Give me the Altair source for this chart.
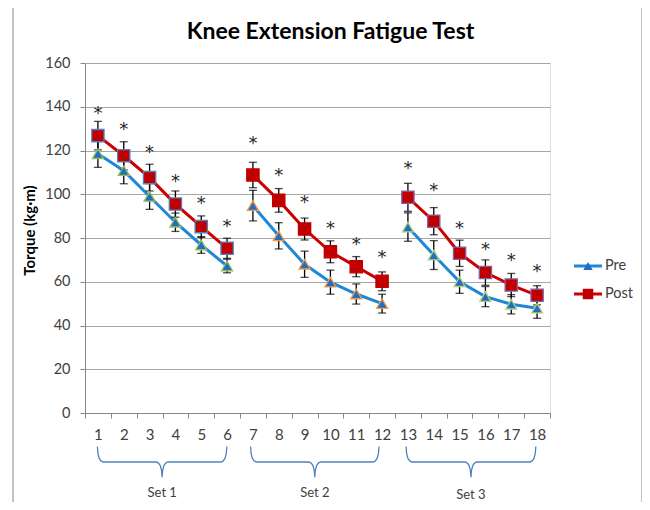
import altair as alt
import pandas as pd

# ---------------- data ----------------
trials = list(range(1, 19))
set_names = ["Set 1"] * 6 + ["Set 2"] * 6 + ["Set 3"] * 6
pre = [118.5, 110.8, 99.0, 87.2, 76.8, 67.2,
       94.8, 81.0, 68.0, 59.8, 54.4, 50.0,
       85.0, 72.2, 60.0, 53.2, 49.7, 47.9]
pre_err = [6.2, 6.0, 5.9, 4.2, 3.8, 3.1,
           7.0, 6.0, 6.0, 5.5, 4.6, 4.3,
           6.5, 6.6, 5.3, 4.6, 4.4, 4.6]
post = [126.8, 117.6, 107.6, 95.5, 85.2, 75.3,
        108.8, 97.2, 84.1, 73.7, 66.9, 60.2,
        98.6, 87.7, 73.0, 64.2, 58.5, 53.8]
post_err = [6.5, 6.4, 6.1, 6.0, 4.9, 4.6,
            5.8, 5.4, 5.0, 5.0, 4.6, 4.3,
            6.4, 6.2, 6.0, 5.8, 5.3, 4.4]
star_pos = [138.2, 130.6, 120.2, 106.8, 97.0, 86.3,
            124.5, 109.6, 97.4, 85.3, 78.0, 72.2,
            112.9, 103.0, 85.5, 76.0, 70.7, 65.7]
series_names = ["Pre", "Post"]
set_labels = ["Set 1", "Set 2", "Set 3"]
set_centers = [3.49, 9.40, 15.44]
set_label_y = [-36.6, -36.4, -37.4]
brace_ends = [(0.98, 5.99), (6.91, 11.88), (12.93, 17.95)]

# ---------------- styling ----------------
FONT = "Lato"
BLUE_LINE = "#1F88D6"
BLUE_FILL = "#1F70C4"
RED_LINE = "#CC0000"
RED_FILL = "#C00000"
GRAY = "#868686"
TXT = "#404040"
W, H = 465, 350

rows = []
for i, t in enumerate(trials):
    rows.append({"trial": t, "set": set_names[i], "series": "Pre", "value": pre[i],
                 "lo": pre[i] - pre_err[i], "hi": pre[i] + pre_err[i]})
    rows.append({"trial": t, "set": set_names[i], "series": "Post", "value": post[i],
                 "lo": post[i] - post_err[i], "hi": post[i] + post_err[i]})
long = pd.DataFrame(rows)
stars = pd.DataFrame({"trial": trials, "star": star_pos, "mark": ["*"] * 18})

yscale = alt.Scale(domain=[0, 160], nice=False)
xscale = alt.Scale(type="band", paddingInner=0, paddingOuter=0)

x_axis = alt.Axis(title=None, labelAngle=0, tickBand="extent", tickSize=5,
                  tickColor=GRAY, domainColor=GRAY, labelFont=FONT,
                  labelFontSize=15, labelColor=TXT, labelPadding=9, grid=False)
y_axis = alt.Axis(title="Torque (kg·m)", values=list(range(0, 161, 20)), tickSize=5,
                  tickColor=GRAY, domainColor=GRAY, grid=True, gridColor="#A6A6A6",
                  labelFont=FONT, labelFontSize=14.5, labelColor=TXT, labelPadding=10,
                  titleFont=FONT, titleFontSize=15, titleFontWeight="bold",
                  titleColor="#000000", titlePadding=7, titleY=167)

X = alt.X("trial:O", scale=xscale, axis=x_axis)
Y = alt.Y("value:Q", scale=yscale, axis=y_axis)
Yn = lambda f: alt.Y(f, scale=yscale, title="Torque (kg·m)")

color = alt.Color("series:N", scale=alt.Scale(domain=series_names, range=[BLUE_LINE, RED_LINE]),
                  legend=None)

lines = alt.Chart(long).mark_line(strokeWidth=3).encode(
    x=X, y=Y, color=color, detail="set:N")

err_rule = alt.Chart(long).mark_rule(color="#000000", strokeWidth=1.3).encode(
    x=X, y=Yn("lo:Q"), y2="hi:Q")
cap_lo = alt.Chart(long).mark_tick(color="#000000", thickness=1.3, size=8).encode(
    x=X, y=Yn("lo:Q"))
cap_hi = alt.Chart(long).mark_tick(color="#000000", thickness=1.3, size=8).encode(
    x=X, y=Yn("hi:Q"))

pre_pts = alt.Chart(long).transform_filter(alt.datum.series == "Pre").mark_point(
    shape="triangle-up", filled=True, fill=BLUE_FILL, size=120, strokeWidth=1.3, opacity=1
).encode(x=X, y=Y, stroke=alt.Stroke("set:N", scale=alt.Scale(
    domain=set_labels, range=["#9BBB59", "#F79646", "#B5CF7A"]), legend=None))

post_pts = alt.Chart(long).transform_filter(alt.datum.series == "Post").mark_point(
    shape="square", filled=True, fill=RED_FILL, size=150, strokeWidth=1.3, opacity=1
).encode(x=X, y=Y, stroke=alt.Stroke("set:N", scale=alt.Scale(
    domain=set_labels, range=["#4F81BD", RED_FILL, "#8064A2"]), legend=None))

star_txt = alt.Chart(stars).mark_text(font="DejaVu Sans", fontSize=18, color="#262626",
                                      baseline="middle", dy=3).encode(
    x=X, y=Yn("star:Q"), text="mark:N")

inner = alt.layer(lines, err_rule, cap_lo, cap_hi, pre_pts, post_pts, star_txt).resolve_scale(
    stroke="independent")

# braces under the x axis (decoration built from the set ranges)
tmpl = [(0.00, -15.3), (0.02, -18.5), (0.07, -20.8), (0.14, -21.9), (0.22, -22.4)]
tip = [(0.22, -22.4), (0.14, -22.9), (0.07, -24.0), (0.02, -26.3), (0.0, -29.3)]
brows = []
for k, (a, b) in enumerate(brace_ends):
    c = (a + b) / 2
    pts = [(a + d, y) for d, y in tmpl] + [(c - d, y) for d, y in tip] + \
          [(c + d, y) for d, y in reversed(tip)] + [(b - d, y) for d, y in reversed(tmpl)]
    for j, (bx, by) in enumerate(pts):
        brows.append({"brace": k, "order": j, "bx": bx, "by": by})
braces_df = pd.DataFrame(brows)
qx = alt.Scale(domain=[0.5, 18.5], nice=False)
braces = alt.Chart(braces_df).mark_line(color="#4F81BD", strokeWidth=1.3).encode(
    x=alt.X("bx:Q", scale=qx, axis=None),
    y=alt.Y("by:Q", scale=yscale, axis=None),
    detail="brace:N", order="order:Q")

set_df = pd.DataFrame({"label": set_labels, "cx": set_centers, "cy": set_label_y})
set_txt = alt.Chart(set_df).mark_text(font=FONT, fontSize=13, color=TXT, baseline="middle").encode(
    x=alt.X("cx:Q", scale=qx, axis=None),
    y=alt.Y("cy:Q", scale=yscale, axis=None), text="label:N")

# manual legend
leg = []
leg_y = [203, 231]
leg_col = [BLUE_LINE, RED_LINE]
leg_fill = [BLUE_FILL, RED_FILL]
leg_shape = ["triangle-up", "square"]
leg_size = [90, 110]
for i, name in enumerate(series_names):
    d = pd.DataFrame({"label": [name]})
    leg.append(alt.Chart(d).mark_rule(color=leg_col[i], strokeWidth=3).encode(
        x=alt.value(489), x2=alt.value(517), y=alt.value(leg_y[i])))
    leg.append(alt.Chart(d).mark_point(shape=leg_shape[i], filled=True, fill=leg_fill[i],
                                       size=leg_size[i], opacity=1).encode(
        x=alt.value(503), y=alt.value(leg_y[i])))
    leg.append(alt.Chart(d).mark_text(font=FONT, fontSize=14.5, color=TXT, align="left",
                                      baseline="middle").encode(
        x=alt.value(520), y=alt.value(leg_y[i]), text="label:N"))

frame_df = pd.DataFrame({"label": ["frame"]})
frame = [
    alt.Chart(frame_df).mark_rule(color=GRAY, strokeWidth=1).encode(
        x=alt.value(-72), y=alt.value(-57), y2=alt.value(450)),
    alt.Chart(frame_df).mark_rule(color=GRAY, strokeWidth=1).encode(
        x=alt.value(557), y=alt.value(-57), y2=alt.value(450)),
    alt.Chart(frame_df).mark_rule(color=GRAY, strokeWidth=1).encode(
        x=alt.value(-72), x2=alt.value(557), y=alt.value(-57)),
]

chart = alt.layer(inner, braces, set_txt, *leg, *frame).resolve_scale(
    x="independent", y="independent"
).properties(
    width=W, height=H,
    title=alt.TitleParams("Knee Extension Fatigue Test", font=FONT, fontSize=23,
                          fontWeight="bold", color="#000000", anchor="middle",
                          frame="group", dx=13, offset=-38),
    autosize=alt.AutoSizeParams(type="none"),
    padding={"left": 77, "top": 55, "right": 92, "bottom": 89},
).configure_view(stroke=None).configure(background="white")

chart.save("out.html", embed_options={"renderer": "svg", "actions": False})
